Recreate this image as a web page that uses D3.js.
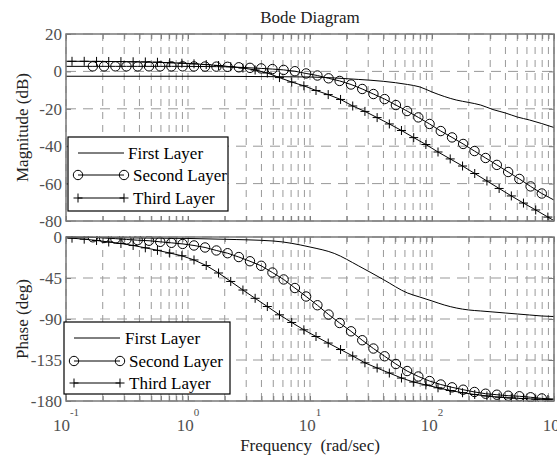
<!DOCTYPE html>
<html>
<head>
<meta charset="utf-8">
<script src="https://cdn.jsdelivr.net/npm/d3@7"></script>
<style>
body { margin: 0; background: #fff; }
text { font-family: "Liberation Serif", "Times New Roman", serif; }
</style>
</head>
<body>
<svg id="chart" width="557" height="457"></svg>
<script>
// first layer (plain line)
var freqFirst  = [0.1, 0.2, 0.5, 1, 2, 5, 10, 15.8, 25.1, 39.8, 63.1, 79.4, 100, 126, 158, 200, 251, 316, 398, 501, 631, 794, 1000];
var magFirst   = [-2.6, -2.6, -2.6, -2.6, -2.65, -2.8, -3.0, -3.5, -4.3, -5.3, -7.0, -8.3, -11.0, -13.4, -15.3, -16.6, -18.0, -20.4, -22.2, -24.4, -26.0, -27.9, -30.0];
var phaseFirst = [-0.3, -0.6, -1.2, -1.6, -2.5, -4.4, -11, -18, -31.8, -46.6, -61.5, -65.9, -70.2, -74.6, -77.9, -80.1, -81.2, -82.3, -83.4, -84.5, -85.6, -86.7, -87.3];

// second layer (circles), first and last points carry no marker
var freqSecond  = [0.1, 0.166, 0.205, 0.254, 0.313, 0.387, 0.479, 0.592, 0.731, 0.904, 1.12, 1.38, 1.71, 2.11, 2.61, 3.22, 3.98, 4.92, 6.08, 7.52, 9.29,
                   11.5, 14.2, 17.5, 21.7, 26.8, 33.1, 40.9, 50.6, 62.5, 77.3, 95.5, 118, 146, 180, 223, 275, 340, 421, 520, 643, 794, 1000];
var magSecond   = [2.7, 2.7, 2.7, 2.7, 2.7, 2.7, 2.7, 2.7, 2.7, 2.7, 2.65, 2.6, 2.55, 2.45, 2.2, 1.9, 1.6, 1.25, 0.8, 0.1, -1.1,
                   -2.2, -3.7, -5.1, -7.0, -9.4, -12.1, -14.8, -18.0, -21.2, -24.6, -28.1, -31.9, -35.3, -38.8, -42.6, -46.3, -50.0, -53.8, -57.5, -61.5, -65.3, -68.8];
var phaseSecond = [0, -0.3, -1.1, -1.8, -2.7, -3.5, -4.1, -5.3, -6.4, -7.6, -9.3, -11.5, -14.8, -17.8, -22.0, -26.6, -31.6, -39.0, -46.6, -56.0, -65.3,
                   -74.9, -85.1, -94.4, -103.5, -113.3, -122.4, -130.9, -139.4, -147.1, -153.1, -158.1, -161.9, -165.0, -167.6, -170.1, -172.0, -173.1, -174.2, -174.8, -175.9, -177.2, -177.8];

// third layer (plus signs), first and last points carry no marker
var freqThird  = [0.1, 0.112, 0.141, 0.178, 0.224, 0.282, 0.355, 0.447, 0.562, 0.708, 0.891, 1.12, 1.41, 1.78, 2.24, 2.82, 3.55, 4.47, 5.62, 7.08, 8.91,
                  11.2, 14.1, 17.8, 22.4, 28.2, 35.5, 44.7, 56.2, 70.8, 89.1, 112, 141, 178, 224, 282, 355, 447, 562, 708, 891, 1000];
var magThird   = [5.4, 5.4, 5.4, 5.35, 5.3, 5.25, 5.15, 5.05, 4.9, 4.65, 4.4, 4.05, 3.65, 3.15, 2.5, 1.8, 0.75, -0.85, -3.3, -5.7, -7.7,
                  -10.2, -12.4, -15.0, -18.5, -21.4, -24.7, -28.1, -31.6, -35.4, -39.1, -43.1, -46.8, -50.6, -54.6, -58.6, -62.6, -66.6, -70.4, -74.1, -77.9, -79.8];
var phaseThird = [-0.8, -1.3, -2.4, -3.8, -5.5, -7.1, -9.3, -11.9, -14.6, -17.6, -20.6, -25.2, -31.3, -39.5, -48.8, -58.2, -67.3, -76.3, -85.4, -93.8, -101.9,
                  -109.2, -116.4, -123.5, -130.6, -138.1, -143.8, -149.3, -154.8, -159.2, -162.4, -165.5, -168.5, -170.9, -172.9, -174.5, -175.8, -176.7, -177.3, -178.0, -178.4, -178.7];

var magTicks = [20, 0, -20, -40, -60, -80];
var phaseTicks = [0, -45, -90, -135, -180];
var decades = [-1, 0, 1, 2, 3];
var legendNames = ["First Layer", "Second Layer", "Third Layer"];

var svg = d3.select("#chart");
var left = 66, right = 554;

var x = d3.scaleLog().domain([0.1, 1000]).range([left, right]);
var yMag = d3.scaleLinear().domain([-80, 20]).range([221, 34]);
var yPh = d3.scaleLinear().domain([-180, 0]).range([401, 237]);

var panels = [
  { id: "mag", y: yMag, ticks: magTicks, label: "Magnitude (dB)",
    series: [
      { f: freqFirst, v: magFirst, mark: "none" },
      { f: freqSecond, v: magSecond, mark: "circle" },
      { f: freqThird, v: magThird, mark: "plus" }
    ],
    legend: { x: 68, y: 137, w: 160, h: 74, lx1: 78, lx2: 124, tx: [128, 133, 133], ty: [153, 175, 198] } },
  { id: "ph", y: yPh, ticks: phaseTicks, label: "Phase (deg)",
    series: [
      { f: freqFirst, v: phaseFirst, mark: "none" },
      { f: freqSecond, v: phaseSecond, mark: "circle" },
      { f: freqThird, v: phaseThird, mark: "plus" }
    ],
    legend: { x: 64, y: 322, w: 166, h: 72, lx1: 74, lx2: 120, tx: [125, 129, 129], ty: [338, 361, 383] } }
];

var gridColor = "#999";
var boxColor = "#7a7a7a";

function drawMarker(g, type, cx, cy) {
  if (type == "circle") {
    g.append("circle").attr("cx", cx).attr("cy", cy).attr("r", 4.7)
      .attr("fill", "none").attr("stroke", "#000").attr("stroke-width", 1);
  } else if (type == "plus") {
    g.append("path").attr("d", "M" + (cx - 4.5) + "," + cy + "h9M" + cx + "," + (cy - 4.5) + "v9")
      .attr("stroke", "#000").attr("stroke-width", 1);
  }
}

panels.forEach(function(p) {
  var y = p.y;
  var top = y.range()[1], bottom = y.range()[0];
  var g = svg.append("g").attr("class", "panel-" + p.id);

  g.append("rect").attr("x", left).attr("y", top).attr("width", right - left).attr("height", bottom - top)
    .attr("fill", "#fff");

  // grid
  g.append("g").selectAll("line").data(x.ticks()).enter().append("line")
    .attr("x1", function(d) { return x(d); }).attr("x2", function(d) { return x(d); })
    .attr("y1", top).attr("y2", bottom)
    .attr("stroke", gridColor).attr("stroke-width", 1).attr("stroke-dasharray", "7,6");
  g.append("g").selectAll("line").data(p.ticks).enter().append("line")
    .attr("x1", left).attr("x2", right)
    .attr("y1", function(d) { return y(d); }).attr("y2", function(d) { return y(d); })
    .attr("stroke", gridColor).attr("stroke-width", 1).attr("stroke-dasharray", "10,7");

  // inner ticks
  g.append("g").attr("transform", "translate(0," + bottom + ")")
    .call(d3.axisTop(x).tickSizeInner(5).tickSizeOuter(0).tickFormat(""))
    .call(function(a) { a.select(".domain").remove(); a.selectAll("line").attr("stroke", boxColor); });
  g.append("g").attr("transform", "translate(0," + top + ")")
    .call(d3.axisBottom(x).tickSizeInner(5).tickSizeOuter(0).tickFormat(""))
    .call(function(a) { a.select(".domain").remove(); a.selectAll("line").attr("stroke", boxColor); });
  g.append("g").attr("transform", "translate(" + left + ",0)")
    .call(d3.axisRight(y).tickValues(p.ticks).tickSizeInner(5).tickSizeOuter(0).tickFormat(""))
    .call(function(a) { a.select(".domain").remove(); a.selectAll("line").attr("stroke", boxColor); });
  g.append("g").attr("transform", "translate(" + right + ",0)")
    .call(d3.axisLeft(y).tickValues(p.ticks).tickSizeInner(5).tickSizeOuter(0).tickFormat(""))
    .call(function(a) { a.select(".domain").remove(); a.selectAll("line").attr("stroke", boxColor); });

  // y tick labels
  g.append("g").selectAll("text").data(p.ticks).enter().append("text")
    .attr("x", 62).attr("y", function(d) { return y(d); }).attr("dy", "0.35em")
    .attr("text-anchor", "end").attr("font-size", 17).attr("fill", "#505050")
    .text(function(d) { return d; });

  // y title
  g.append("text").attr("transform", "translate(28," + ((top + bottom) / 2) + ") rotate(-90)")
    .attr("text-anchor", "middle").attr("font-size", 17).attr("fill", "#222")
    .text(p.label);

  // series
  var clipId = "clip-" + p.id;
  svg.append("clipPath").attr("id", clipId).append("rect")
    .attr("x", left).attr("y", top - 1).attr("width", right - left + 1).attr("height", bottom - top + 2);
  var sg = g.append("g").attr("clip-path", "url(#" + clipId + ")");
  p.series.forEach(function(s) {
    var pts = s.f.map(function(f, i) { return [f, s.v[i]]; });
    var line = d3.line().x(function(d) { return x(d[0]); }).y(function(d) { return y(d[1]); });
    if (s.mark == "none") line.curve(d3.curveMonotoneX);
    sg.append("path").datum(pts).attr("d", line)
      .attr("fill", "none").attr("stroke", "#000").attr("stroke-width", 1);
    if (s.mark != "none") {
      pts.slice(1, pts.length - 1).forEach(function(d) {
        drawMarker(sg, s.mark, x(d[0]), y(d[1]));
      });
    }
  });

  // box
  g.append("rect").attr("x", left).attr("y", top).attr("width", right - left).attr("height", bottom - top)
    .attr("fill", "none").attr("stroke", boxColor).attr("stroke-width", 1.5);

  // legend
  var L = p.legend;
  var lg = g.append("g").attr("class", "legend");
  lg.append("rect").attr("x", L.x).attr("y", L.y).attr("width", L.w).attr("height", L.h)
    .attr("fill", "#fff").attr("stroke", "#000").attr("stroke-width", 1.2);
  p.series.forEach(function(s, i) {
    var ly = L.ty[i];
    lg.append("line").attr("x1", L.lx1).attr("x2", L.lx2).attr("y1", ly).attr("y2", ly)
      .attr("stroke", "#000").attr("stroke-width", 1);
    drawMarker(lg, s.mark, L.lx1, ly);
    drawMarker(lg, s.mark, L.lx2, ly);
    lg.append("text").attr("x", L.tx[i]).attr("y", ly).attr("dy", "0.35em")
      .attr("font-size", 17).attr("fill", "#000").text(legendNames[i]);
  });
});

// x tick labels (bottom panel only)
var xl = svg.append("g").selectAll("text").data(decades).enter().append("text")
  .attr("x", function(d) { return x(Math.pow(10, d)); }).attr("y", 431)
  .attr("text-anchor", "middle").attr("font-size", 17).attr("fill", "#505050");
xl.append("tspan").text("10");
xl.append("tspan").attr("font-size", 11).attr("dy", -15).text(function(d) { return d; });

svg.append("text").attr("x", 310).attr("y", 23).attr("text-anchor", "middle")
  .attr("font-size", 17).attr("fill", "#222").text("Bode Diagram");

svg.append("text").attr("x", 310).attr("y", 451).attr("text-anchor", "middle")
  .attr("font-size", 17).attr("fill", "#222").style("white-space", "pre")
  .text("Frequency  (rad/sec)");
</script>
</body>
</html>
